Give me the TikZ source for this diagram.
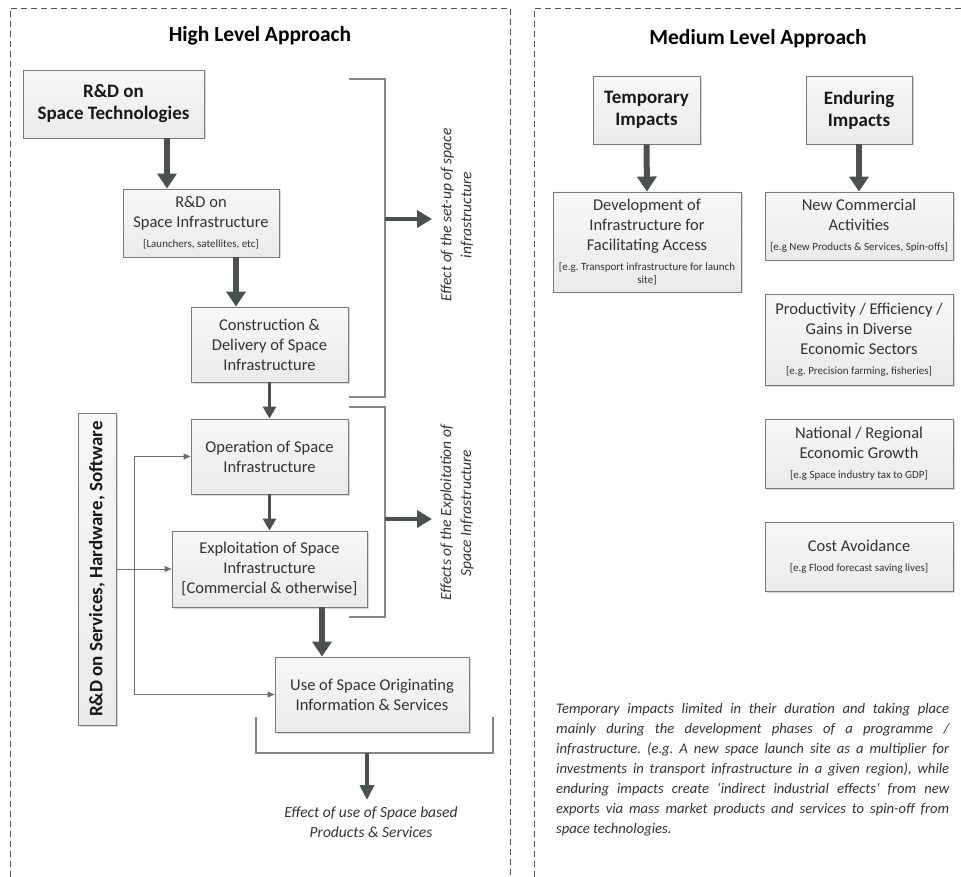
\documentclass[tikz,border=0pt]{standalone}
\usepackage{fontspec}
\setmainfont{Carlito}
\usetikzlibrary{arrows.meta,shadows,calc}
\frenchspacing

\definecolor{arrowgray}{HTML}{4B5150}
\definecolor{framegray}{HTML}{555555}
\definecolor{boxline}{HTML}{7A7A7A}
\definecolor{txt}{HTML}{333333}
\definecolor{linegray}{HTML}{858585}
\definecolor{conngray}{HTML}{6E6E6E}

\tikzset{
  box/.style={draw=boxline, line width=0.9pt, top color=black!3, bottom color=black!8,
    drop shadow={shadow xshift=1.5pt, shadow yshift=-1.5pt, fill=black!30, opacity=0.5},
    align=center, inner sep=2pt, text=txt,
    font=\fontsize{16.5}{20}\selectfont},
  headbox/.style={box, text=black!90, font=\bfseries\fontsize{19}{22}\selectfont},
  bigarrow/.style={draw=arrowgray, line width=6pt, -{Triangle[length=15pt,width=19pt]}},
  midarrow/.style={draw=arrowgray, line width=3.2pt, -{Triangle[length=12pt,width=13pt]}},
  sidearrow/.style={draw=arrowgray, line width=4.5pt, -{Triangle[length=15pt,width=17pt]}},
  lowarrow/.style={draw=arrowgray, line width=4pt, -{Triangle[length=15pt,width=14pt]}},
  conn/.style={draw=conngray, line width=0.9pt, -{Triangle[length=7pt,width=6pt]}},
  bracket/.style={draw=linegray, line width=1.1pt},
  frame/.style={draw=framegray, line width=0.8pt, dash pattern=on 6pt off 4pt},
  sidelabel/.style={rotate=90, align=center, text=txt, font=\itshape\fontsize{15.5}{20}\selectfont},
  title/.style={text=black, font=\bfseries\fontsize{21.5}{24}\selectfont}
}

\begin{document}
\begin{tikzpicture}[x=1pt, y=-1pt]
\useasboundingbox (0,0) rectangle (961,877);

% dashed panel frames
\draw[frame] (10,877) -- (10,8) -- (510,8) -- (510,877);
\draw[frame] (534,877) -- (534,8) -- (961,8);

% ---------------- High level approach ----------------
\node[title] (hla) at (260,36) {High Level Approach};

\node[headbox, minimum width=181pt, minimum height=68pt] (rdtech) at (113.5,104)
  {R\&D on\\Space Technologies};
\node[box, minimum width=156pt, minimum height=68pt] (rdinfra) at (201,223)
  {R\&D on\\Space Infrastructure\\{\fontsize{11}{12}\selectfont [Launchers, satellites, etc]}};
\node[box, minimum width=157pt, minimum height=75pt] (constr) at (269.5,344.5)
  {Construction \&\\Delivery of Space\\Infrastructure};
\node[box, minimum width=157pt, minimum height=75pt] (oper) at (269.5,456.5)
  {Operation of Space\\Infrastructure};
\node[box, minimum width=195pt, minimum height=76pt] (exploit) at (269.5,569)
  {Exploitation of Space\\Infrastructure\\{}[Commercial \& otherwise]};
\node[box, minimum width=194pt, minimum height=75pt] (use) at (372,694.5)
  {Use of Space Originating\\Information \& Services};
\node[headbox, minimum width=312pt, minimum height=38pt, rotate=90] (rdserv) at (97,569)
  {R\&D on Services, Hardware, Software};

% main chain
\draw[bigarrow] ([xshift=53.5pt]rdtech.south) -- ([xshift=53.5pt]rdtech.south |- rdinfra.north);
\draw[bigarrow] ([xshift=35pt]rdinfra.south) -- ([xshift=35pt]rdinfra.south |- constr.north);
\draw[midarrow] (constr.south) -- (oper.north);
\draw[midarrow] (oper.south) -- (exploit.north);
\draw[bigarrow] ([xshift=52.5pt]exploit.south) -- ([xshift=52.5pt]exploit.south |- use.north);

% supporting R&D feeds
\coordinate (bus) at (134,569);
\draw[conn] (rdserv.south) -- (exploit.west);
\draw[conn] (bus |- use.west) -- (bus |- oper.west) -- (oper.west);
\draw[conn] (bus |- oper.west) -- (bus |- use.west) -- (use.west);

% effect brackets
\coordinate (b1a) at (349,79);  \coordinate (b1b) at (385,79);
\coordinate (b1c) at (385,397); \coordinate (b1d) at (349,397);
\draw[bracket] (b1a) -- (b1b) -- (b1c) -- (b1d);
\coordinate (b1m) at (385,219); \coordinate (b1t) at (432,219);
\draw[sidearrow] (b1m) -- (b1t);
\node[sidelabel] (lab1) at (457,215) {Effect of the set-up of space\\infrastructure};

\coordinate (b2a) at (349,407); \coordinate (b2b) at (385,407);
\coordinate (b2c) at (385,617); \coordinate (b2d) at (349,617);
\draw[bracket] (b2a) -- (b2b) -- (b2c) -- (b2d);
\coordinate (b2m) at (385,519); \coordinate (b2t) at (432,519);
\draw[sidearrow] (b2m) -- (b2t);
\node[sidelabel] (lab2) at (457,513) {Effects of the Exploitation of\\Space Infrastructure};

\coordinate (b3a) at (256,717); \coordinate (b3b) at (256,753);
\coordinate (b3c) at (493,753); \coordinate (b3d) at (493,717);
\draw[bracket] (b3a) -- (b3b) -- (b3c) -- (b3d);
\coordinate (b3m) at (367,753); \coordinate (b3t) at (367,800);
\draw[lowarrow] (b3m) -- (b3t);
\node[align=center, text=txt, font=\itshape\fontsize{15.5}{20}\selectfont] (lab3) at (371,822)
  {Effect of use of Space based\\Products \& Services};

% ---------------- Medium level approach ----------------
\node[title] (mla) at (758,39) {Medium Level Approach};

\node[headbox, minimum width=107pt, minimum height=68pt] (temp) at (646.5,110) {Temporary\\Impacts};
\node[headbox, minimum width=106pt, minimum height=68pt] (endur) at (859,110) {Enduring\\Impacts};

\node[box, minimum width=188pt, minimum height=100pt] (devinfra) at (647,242)
  {Development of\\Infrastructure for\\Facilitating Access\\{\fontsize{11}{13}\selectfont [e.g. Transport infrastructure for launch}\\[-7pt]{\fontsize{11}{13}\selectfont site]}};
\node[box, minimum width=188pt, minimum height=68pt] (newcomm) at (859,226)
  {New Commercial\\Activities\\{\fontsize{11}{12}\selectfont [e.g New Products \& Services, Spin-offs]}};
\node[box, minimum width=188pt, minimum height=91pt] (prod) at (859,339.5)
  {Productivity / Efficiency /\\Gains in Diverse\\Economic Sectors\\{\fontsize{11}{12}\selectfont [e.g. Precision farming, fisheries]}};
\node[box, minimum width=188pt, minimum height=69pt] (natl) at (859,453.5)
  {National / Regional\\Economic Growth\\{\fontsize{11}{12}\selectfont [e.g Space industry tax to GDP]}};
\node[box, minimum width=188pt, minimum height=69pt] (cost) at (859,556.5)
  {Cost Avoidance\\{\fontsize{11}{12}\selectfont [e.g Flood forecast saving lives]}};

\draw[bigarrow] (temp.south) -- (devinfra.north);
\draw[bigarrow] (endur.south) -- (newcomm.north);

\node[anchor=north west, inner sep=0pt, text width=393pt, align=justify, text=txt,
      font=\itshape\fontsize{14.6}{20}\selectfont] (note) at (556,703)
  {Temporary impacts limited in their duration and taking place\linebreak
   mainly during the development phases of a programme /\linebreak
   infrastructure. (e.g. A new space launch site as a multiplier for\linebreak
   investments in transport infrastructure in a given region), while\linebreak
   enduring impacts create `indirect industrial effects' from new\linebreak
   exports via mass market products and services to spin-off from\linebreak
   space technologies.};
\end{tikzpicture}
\end{document}
